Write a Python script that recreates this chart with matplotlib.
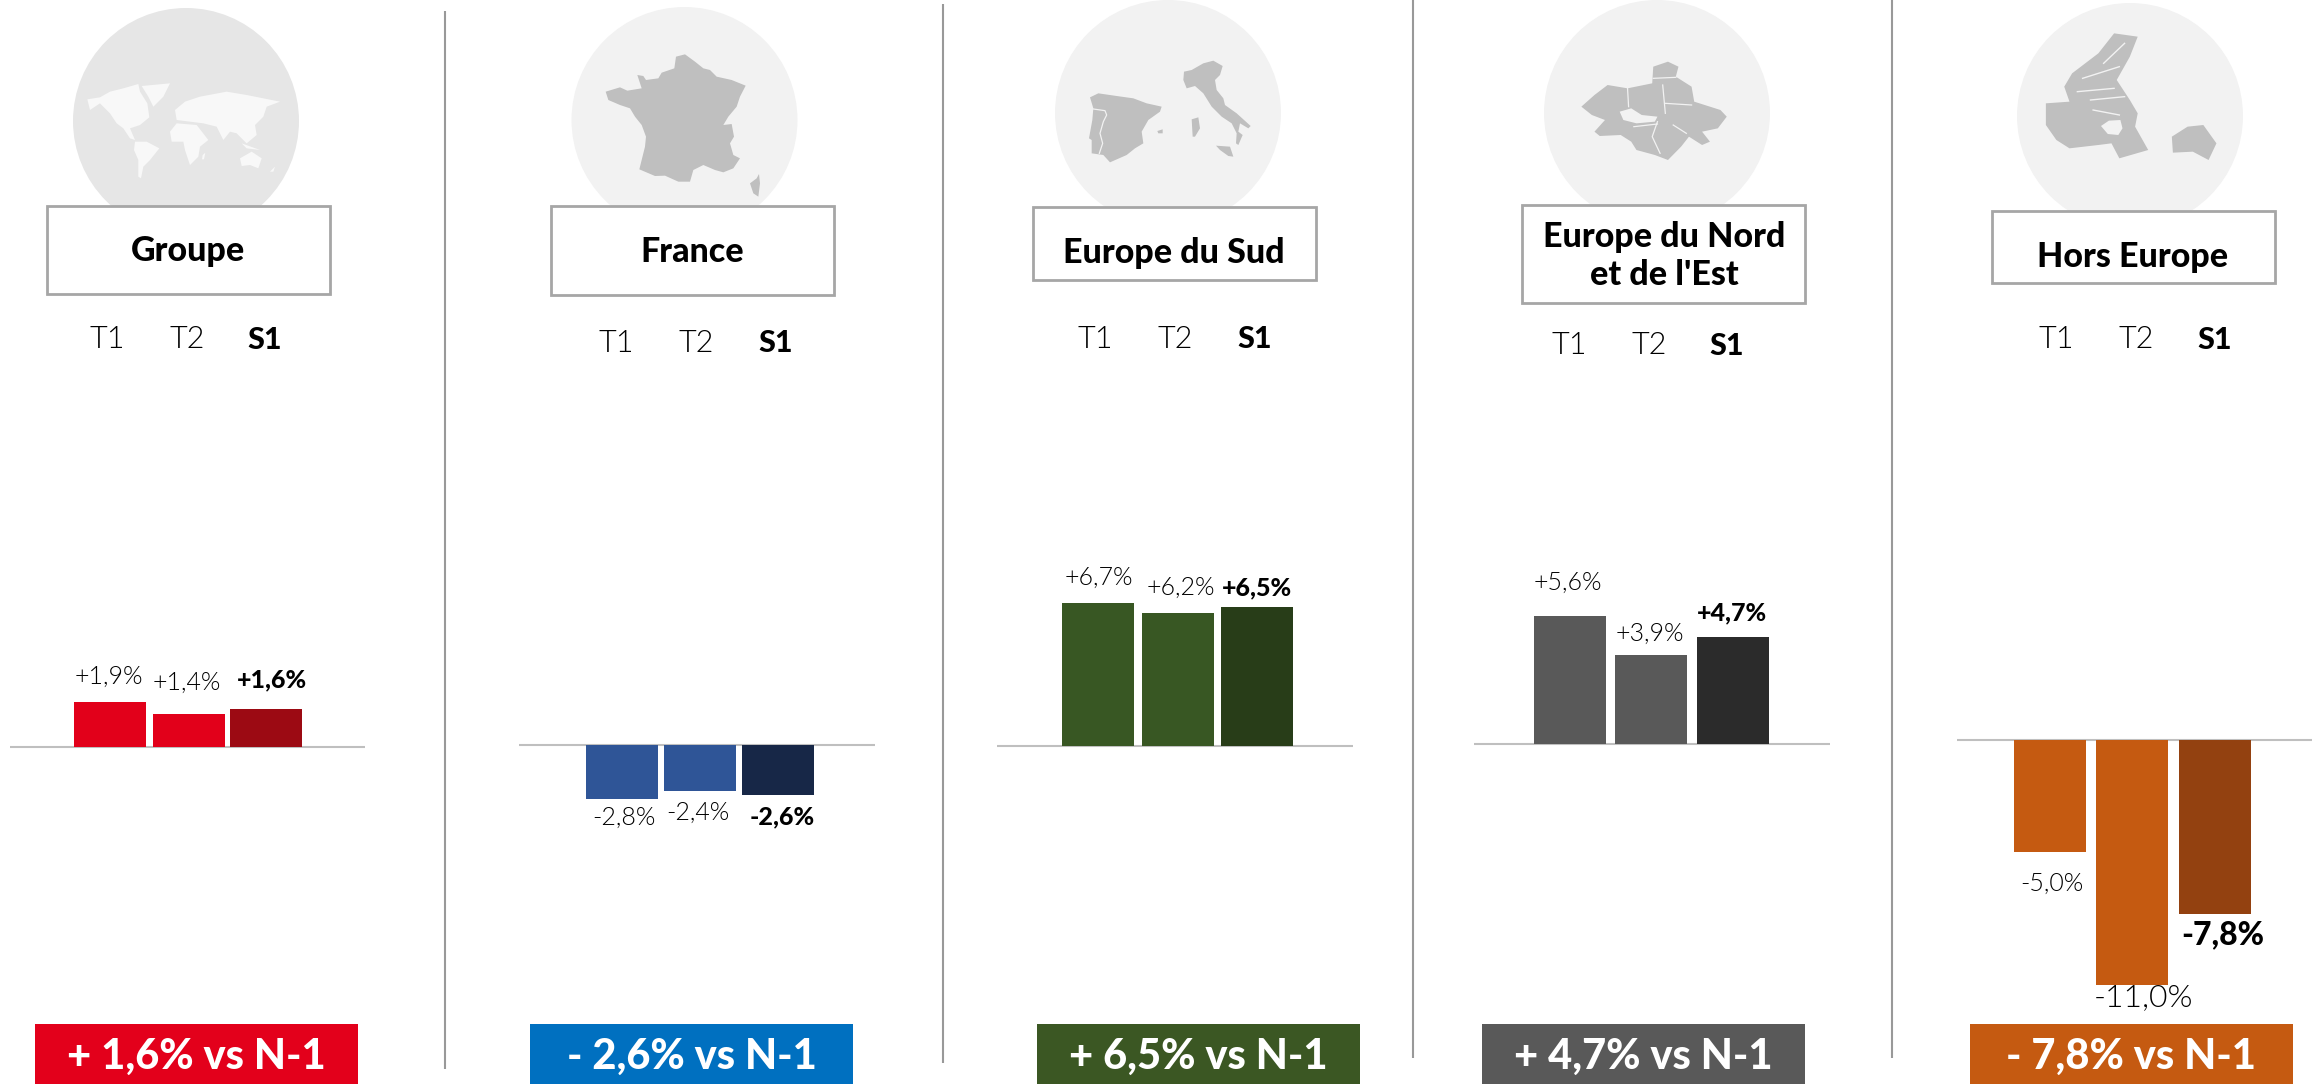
import matplotlib
matplotlib.use("Agg")
import matplotlib.pyplot as plt
from matplotlib import font_manager as fm
from matplotlib.patches import Circle, Rectangle, Polygon

# ---------- data ----------
regions = ["Groupe", "France", "Europe du Sud", "Europe du Nord\net de l'Est", "Hors Europe"]
periods = ["T1", "T2", "S1"]
groupe = [1.9, 1.4, 1.6]
france = [-2.8, -2.4, -2.6]
europe_sud = [6.7, 6.2, 6.5]
europe_nord = [5.6, 3.9, 4.7]
hors_europe = [-5.0, -11.0, -7.8]
series = [groupe, france, europe_sud, europe_nord, hors_europe]
summary_labels = ["+ 1,6% vs N-1", "- 2,6% vs N-1", "+ 6,5% vs N-1", "+ 4,7% vs N-1", "- 7,8% vs N-1"]

# ---------- layout (pixels) ----------
W, H = 2323, 1084


def lato(style, fallback_weight):
    """Pick a Lato cut by its file name, since weight matching may land on Hairline."""
    for f in fm.fontManager.ttflist:
        if f.fname.endswith(f"Lato-{style}.ttf"):
            return dict(fname=f.fname)
    return dict(family="Lato", weight=fallback_weight)


def fp(style, fallback_weight, size):
    return fm.FontProperties(size=size, **lato(style, fallback_weight))


baseline_y = [747, 745, 746, 744, 740]
px_per_pct = [23.7, 19.3, 21.4, 22.8, 22.3]
baseline_x = [(10, 365), (519, 875), (997, 1353), (1474, 1830), (1957, 2312)]
bar_x = [[(74, 146), (153, 225), (230, 302)],
         [(586, 658), (664, 736), (742, 814)],
         [(1062, 1134), (1142, 1214), (1221, 1293)],
         [(1534, 1606), (1615, 1687), (1697, 1769)],
         [(2014, 2086), (2096, 2168), (2179, 2251)]]
bar_colors = [("#E2001A", "#9C0A13"), ("#2F5597", "#172747"), ("#385723", "#283D18"),
              ("#595959", "#2B2B2B"), ("#C55A11", "#934110")]
value_pos = [[(109, 677), (187, 683), (272, 680)],
             [(624, 818), (698, 813), (782, 817)],
             [(1099, 578), (1181, 588), (1257, 588)],
             [(1568, 583), (1650, 634), (1732, 613)],
             [(2052, 884), (2143, 998), (2223, 935)]]
value_size = [[18, 18, 18], [18, 18, 18], [18, 18, 18], [18, 18, 18], [18, 23, 23]]
circles = [(186, 121, "#E6E6E6"), (684.5, 120, "#F2F2F2"), (1168, 113, "#F2F2F2"),
           (1657, 113, "#F2F2F2"), (2130, 116, "#F2F2F2")]
boxes = [(47, 206, 330, 294), (551, 206, 834, 295), (1033, 207, 1316, 280),
         (1522, 205, 1805, 303), (1992, 211, 2275, 283)]
title_pos = [(188, 251), (692, 252), (1174, 253), (1664, 256), (2133, 257)]
period_x = [(107, 187, 265), (616, 696, 776), (1095, 1175, 1255), (1569, 1649, 1727), (2056, 2136, 2215)]
period_y = [340, 343, 339, 346, 340]
separators = [(445, 11, 1069), (943, 4, 1063), (1413, 0, 1058), (1892, 0, 1058)]
summary_box = [(35, 358), (530, 853), (1037, 1360), (1482, 1805), (1970, 2293)]
summary_colors = ["#E3001B", "#0070C0", "#3B5723", "#595959", "#C55A11"]

fig = plt.figure(figsize=(W / 100, H / 100), dpi=100, facecolor="white")


def px_axes(ylim, z=1):
    a = fig.add_axes([0, 0, 1, 1], zorder=z)
    a.set_xlim(0, W)
    a.set_ylim(*ylim)
    a.axis("off")
    a.patch.set_alpha(0)
    return a


deco = px_axes((H, 0), z=1)


def shape(pts, ox, oy, sx, sy, color, z=3):
    deco.add_patch(Polygon([(ox + x / sx, oy + y / sy) for x, y in pts], closed=True,
                           fc=color, ec="none", zorder=z))


def line(pts, ox, oy, sx, sy, color, lw=0.9, z=4):
    deco.plot([ox + x / sx for x, y in pts], [oy + y / sy for x, y in pts], color=color, lw=lw, zorder=z)


# circles
for cx, cy, c in circles:
    deco.add_patch(Circle((cx, cy), 113, fc=c, ec="none", zorder=2))

# ---------- decorative maps ----------
LAND = "#BFBFBF"
BG = "#F2F2F2"
WORLD = "#F8F8F8"
world = [
    [(82, 118), (120, 112), (150, 95), (190, 85), (235, 72), (240, 95), (262, 130), (268, 172), (240, 195),
     (210, 205), (225, 240), (210, 235), (190, 205), (170, 190), (150, 160), (120, 130), (90, 150)],
    [(245, 78), (330, 70), (310, 110), (280, 140), (265, 110)],
    [(225, 245), (260, 245), (298, 265), (270, 300), (250, 320), (243, 355), (235, 350), (235, 300), (222, 270)],
    [(345, 150), (375, 125), (420, 110), (500, 95), (560, 105), (660, 125), (620, 140), (610, 170), (585, 195),
     (590, 225), (560, 250), (530, 220), (510, 215), (490, 240), (470, 200), (430, 190), (350, 180)],
    [(330, 215), (350, 190), (410, 195), (445, 240), (420, 260), (415, 290), (390, 315), (375, 270), (370, 245),
     (335, 245)],
    [(428, 285), (436, 278), (432, 298), (426, 298)],
    [(540, 295), (575, 275), (605, 295), (595, 325), (570, 315), (545, 318)],
    [(545, 250), (600, 270), (560, 265)],
    [(630, 335), (645, 320), (640, 335)],
]
for p in world:
    shape(p, 60, 60, 3, 3, WORLD)

france_map = [
    [(197, 275), (240, 262), (262, 272), (305, 265), (292, 225), (310, 228), (318, 240), (355, 235), (365, 218),
     (403, 205), (408, 170), (435, 163), (465, 185), (490, 205), (510, 210), (530, 230), (575, 240), (617, 257),
     (600, 290), (590, 320), (565, 350), (550, 375), (575, 372), (582, 410), (570, 430), (580, 465), (600, 475),
     (580, 505), (550, 517), (525, 510), (490, 495), (460, 510), (450, 545), (415, 545), (375, 527), (345, 528),
     (298, 508), (315, 440), (318, 410), (305, 375), (285, 350), (270, 325), (240, 315), (205, 300)],
    [(657, 522), (660, 550), (655, 590), (640, 580), (630, 550), (650, 535)],
]
for p in france_map:
    shape(p, 540, 0, 3, 3, LAND)

south_map = [
    [(150, 292), (175, 280), (230, 288), (280, 295), (320, 310), (365, 320), (360, 335), (325, 360), (305, 395),
     (310, 430), (285, 445), (260, 465), (210, 487), (190, 465), (155, 460), (155, 420), (147, 415), (157, 360),
     (160, 325)],
    [(352, 393), (368, 388), (368, 400), (355, 400)],
    [(455, 358), (475, 352), (480, 385), (465, 410), (458, 410)],
    [(432, 215), (455, 210), (490, 190), (520, 182), (548, 198), (540, 225), (525, 240), (530, 270), (550, 295),
     (555, 315), (590, 340), (632, 378), (625, 385), (600, 370), (595, 395), (608, 405), (595, 435), (588, 430),
     (590, 400), (575, 370), (545, 350), (515, 320), (490, 280), (465, 258), (440, 265), (430, 240)],
    [(528, 437), (570, 440), (580, 470), (565, 468), (540, 450)],
]
for p in south_map:
    shape(p, 1040, 0, 3, 3, LAND)
line([(160, 327), (195, 332), (200, 345), (190, 365), (180, 400), (188, 430), (178, 460)], 1040, 0, 3, 3, BG)

SX = 1568 / 823
north_map = [(155, 320), (180, 285), (205, 255), (243, 265), (290, 250), (292, 200), (320, 185), (340, 200),
             (335, 230), (365, 260), (370, 305), (420, 330), (432, 350), (415, 385), (385, 395), (400, 425),
             (385, 435), (360, 410), (345, 440), (320, 480), (295, 465), (260, 450), (250, 425), (230, 405),
             (190, 408), (180, 395), (200, 360), (175, 345)]
shape(north_map, 1500, 0, SX, 3, LAND)
shape([(228, 335), (250, 325), (270, 345), (300, 350), (295, 365), (260, 370), (235, 360)], 1500, 0, SX, 3, BG, z=4)
for seg in ([(243, 265), (245, 320)], [(310, 255), (315, 340)], [(315, 310), (365, 315)],
            [(300, 365), (290, 410), (305, 460)], [(330, 375), (355, 400)], [(255, 380), (300, 372)],
            [(292, 235), (335, 232)]):
    line(seg, 1500, 0, SX, 3, BG)

canada = [(1040, 310), (1085, 305), (1075, 260), (1090, 220), (1140, 160), (1170, 100), (1215, 110), (1200, 170),
          (1175, 240), (1200, 300), (1215, 340), (1210, 380), (1235, 450), (1180, 475), (1165, 430), (1140, 435),
          (1085, 445), (1060, 420), (1040, 375)]
shape(canada, 1500, 0, SX, 3, LAND)
shape([(1145, 378), (1160, 362), (1182, 360), (1186, 385), (1178, 405), (1158, 402)], 1500, 0, SX, 3, BG, z=4)
shape([(1280, 410), (1310, 380), (1340, 375), (1365, 430), (1350, 480), (1320, 455), (1282, 458)], 1500, 0, SX, 3, LAND)
for seg in ([(1100, 275), (1170, 265)], [(1110, 235), (1180, 200)], [(1125, 300), (1190, 290)],
            [(1150, 190), (1190, 130)], [(1130, 330), (1180, 345)]):
    line(seg, 1500, 0, SX, 3, BG, lw=1.0)

# separators
for x, y0, y1 in separators:
    deco.plot([x, x], [y0, y1], color="#999999", lw=1.5, solid_capstyle="butt", zorder=2)

# ---------- panels ----------
for i, vals in enumerate(series):
    by, k = baseline_y[i], px_per_pct[i]
    ax = px_axes((-(H - by) / k, by / k), z=5)
    ax.plot(baseline_x[i], [0, 0], color="#BFBFBF", lw=1.5, zorder=1, solid_capstyle="butt")
    for j, v in enumerate(vals):
        x0, x1 = bar_x[i][j]
        ax.bar((x0 + x1) / 2, v, width=x1 - x0, color=bar_colors[i][1 if j == 2 else 0], zorder=2)
        label = f"{v:+.1f}%".replace(".", ",")
        tx, ty = value_pos[i][j]
        prop = fp("Heavy", "bold", value_size[i][j]) if j == 2 else fp("Light", "normal", value_size[i][j])
        deco.text(tx, ty, label, ha="center", va="center", fontproperties=prop, color="black", zorder=6)

    # title box
    x0, y0, x1, y1 = boxes[i]
    deco.add_patch(Rectangle((x0, y0), x1 - x0, y1 - y0, fc="white", ec="#A6A6A6", lw=2.0, zorder=5))
    tx, ty = title_pos[i]
    deco.text(tx, ty, regions[i], ha="center", va="center", fontproperties=fp("Heavy", "bold", 24.5),
              color="black", zorder=6, linespacing=1.2)

    # period labels
    for j, p in enumerate(periods):
        prop = fp("Heavy", "bold", 22) if j == 2 else fp("Light", "normal", 22)
        deco.text(period_x[i][j], period_y[i], p, ha="center", va="center", fontproperties=prop,
                  color="black", zorder=6)

    # summary box
    sx0, sx1 = summary_box[i]
    deco.add_patch(Rectangle((sx0, 1024), sx1 - sx0, H - 1024, fc=summary_colors[i], ec="none", zorder=5))
    deco.text((sx0 + sx1) / 2, 1057, summary_labels[i], ha="center", va="center",
              fontproperties=fp("Heavy", "bold", 30), color="white", zorder=6)

fig.savefig("out.png", dpi=100, facecolor="white")
